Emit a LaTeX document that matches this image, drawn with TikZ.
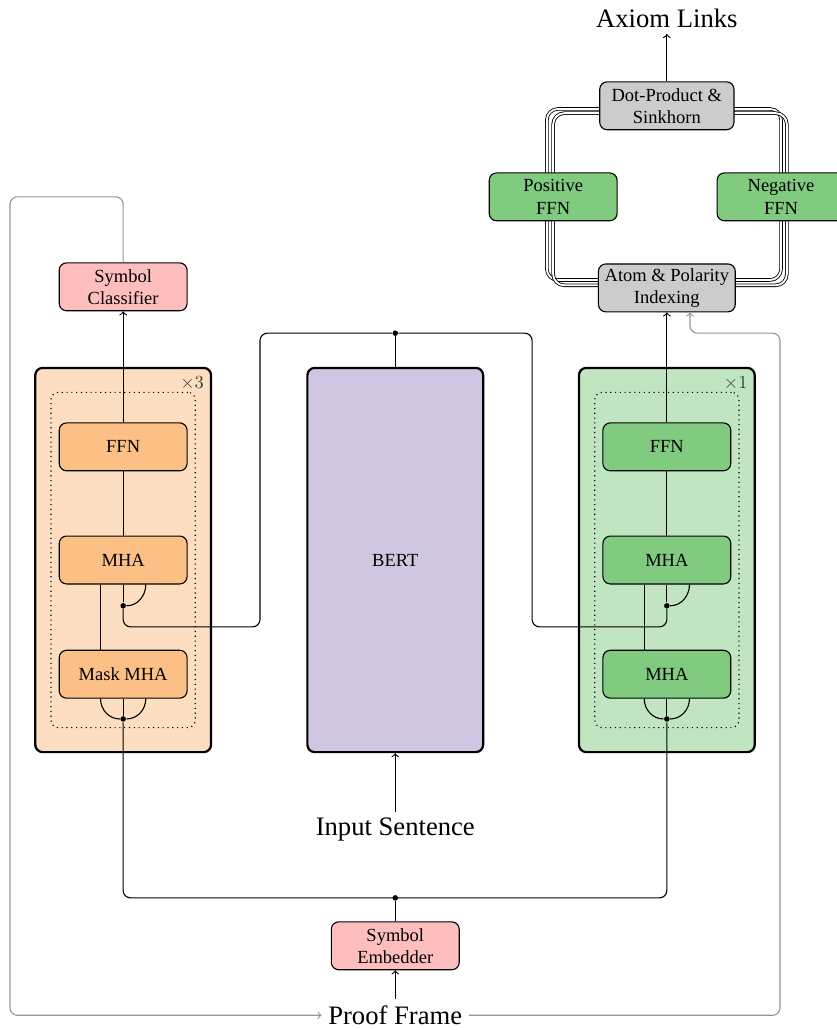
\documentclass[tikz,border=0pt]{standalone}
\usepackage{fontspec}
\setmainfont{Liberation Serif}
\usepackage{tikz}
\usetikzlibrary{shapes.geometric, arrows}

\definecolor{decfill}{RGB}{253,222,192}
\definecolor{decnode}{RGB}{252,192,135}
\definecolor{encfill}{RGB}{193,229,193}
\definecolor{encnode}{RGB}{128,203,128}
\definecolor{bertfill}{RGB}{208,198,225}
\definecolor{symfill}{RGB}{255,190,190}
\definecolor{linkfill}{RGB}{204,204,204}
\definecolor{loopgray}{RGB}{150,150,150}

\tikzstyle{block} = [rectangle, rounded corners, text centered, align=center, draw=black, inner sep=2pt, minimum width=2.43cm, minimum height=0.91cm]
\tikzstyle{decblock} = [block, fill=decnode]
\tikzstyle{encblock} = [block, fill=encnode]
\tikzstyle{symblock} = [block, fill=symfill]
\tikzstyle{linkblock} = [block, fill=linkfill]
\tikzstyle{stackbox} = [rectangle, rounded corners, draw=black, line width=1.2pt, minimum width=3.34cm, minimum height=7.3cm]
\tikzstyle{repeatbox} = [rectangle, rounded corners, draw=black, dotted, minimum width=2.74cm, minimum height=6.37cm]
\tikzstyle{junction} = [circle, fill=black, inner sep=0pt, minimum size=3pt]
\tikzstyle{arrow1} = [->]
\tikzstyle{arrow2} = [loopgray, ->, rounded corners]
\tikzstyle{wire} = [rounded corners]
\tikzstyle{loopline} = [line width=0.45pt, double, double distance=1pt, rounded corners=6pt]
\tikzstyle{big} = [font=\Large]

\begin{document}
\begin{tikzpicture}[line width=0.6pt]

    \useasboundingbox (0,0) rectangle (15.9,-19.57);

    % linking head
    \draw [loopline] (10.39,-2.07) rectangle (14.84,-5.32);
    \draw [loopline] (10.51,-2.15) rectangle (14.95,-5.42);

    \node (links) [big] at (12.67,-0.34) {Axiom Links};
    \node (sinkhorn) [linkblock, minimum width=2.55cm] at (12.67,-2.01) {Dot-Product \&\\Sinkhorn};
    \node (positive) [encblock] at (10.51,-3.74) {Positive\\FFN};
    \node (negative) [encblock] at (14.84,-3.74) {Negative\\FFN};
    \node (indexing) [linkblock, minimum width=2.6cm] at (12.67,-5.47) {Atom \& Polarity\\Indexing};

    \draw [arrow1] (sinkhorn) -- (links);

    % decoder
    \node (classifier) [symblock] at (2.34,-5.45) {Symbol\\Classifier};

    \node (decstack) [stackbox, fill=decfill] at (2.34,-10.64) {};
    \node (declayer) [repeatbox] at (2.34,-10.64) {};
    \node (dectimes) [text=black!75] at (3.65,-7.28) {$\times 3$};

    \node (decffn) [decblock] at (2.34,-8.49) {FFN};
    \node (decmha) [decblock] at (2.34,-10.64) {MHA};
    \node (decmask) [decblock] at (2.34,-12.81) {Mask MHA};
    \node (decdot1) [junction] at (2.34,-11.51) {};
    \node (decdot2) [junction] at (2.34,-13.66) {};

    \draw [arrow1] (decffn) -- (classifier);
    \draw (decffn) -- (decmha);
    \draw (decmha) -- (decdot1);
    \draw ([xshift=0.43cm]decmha.south) to [out=-90, in=0] (decdot1);
    \draw ([xshift=-0.43cm]decmask.north) -- ([xshift=-0.43cm]decmha.south);
    \draw (decmask) -- (decdot2);
    \draw ([xshift=-0.43cm]decmask.south) to [out=-90, in=180] (decdot2);
    \draw ([xshift=0.43cm]decmask.south) to [out=-90, in=0] (decdot2);

    % bert
    \node (bert) [stackbox, fill=bertfill] at (7.51,-10.64) {BERT};
    \node (bertdot) [junction] at (7.51,-6.33) {};
    \node (input) [big] at (7.51,-15.77) {Input Sentence};

    \draw (bert) -- (bertdot);
    \draw [arrow1] (input) -- (bert);

    % encoder
    \node (encstack) [stackbox, fill=encfill] at (12.67,-10.64) {};
    \node (enclayer) [repeatbox] at (12.67,-10.64) {};
    \node (enctimes) [text=black!75] at (13.98,-7.28) {$\times 1$};

    \node (encffn) [encblock] at (12.67,-8.49) {FFN};
    \node (encmha) [encblock] at (12.67,-10.64) {MHA};
    \node (encself) [encblock] at (12.67,-12.81) {MHA};
    \node (encdot1) [junction] at (12.67,-11.51) {};
    \node (encdot2) [junction] at (12.67,-13.66) {};

    \draw [arrow1] (encffn) -- (indexing);
    \draw (encffn) -- (encmha);
    \draw (encmha) -- (encdot1);
    \draw ([xshift=0.43cm]encmha.south) to [out=-90, in=0] (encdot1);
    \draw ([xshift=-0.43cm]encself.north) -- ([xshift=-0.43cm]encmha.south);
    \draw (encself) -- (encdot2);
    \draw ([xshift=-0.43cm]encself.south) to [out=-90, in=180] (encdot2);
    \draw ([xshift=0.43cm]encself.south) to [out=-90, in=0] (encdot2);

    % memory from bert
    \draw [wire] (bertdot) -| (4.94,-11.91) -| (decdot1);
    \draw [wire] (bertdot) -| (10.11,-11.91) -| (encdot1);

    % proof frame
    \node (busdot) [junction] at (7.51,-17.06) {};
    \node (embedder) [symblock] at (7.51,-17.97) {Symbol\\Embedder};
    \node (proof) [big] at (7.51,-19.29) {Proof Frame};

    \draw [wire] (decdot2) |- (busdot.center) -| (encdot2);
    \draw (embedder) -- (busdot);
    \draw [arrow1] (proof) -- (embedder);

    \coordinate (lcorner) at (0.19,-3.74);
    \coordinate (rcorner) at (14.82,-6.33);

    \draw [arrow2] (classifier) |- (lcorner) |- (proof);
    \draw [arrow2] (proof) -| (rcorner) -| ([xshift=0.44cm]indexing.south);

\end{tikzpicture}
\end{document}
